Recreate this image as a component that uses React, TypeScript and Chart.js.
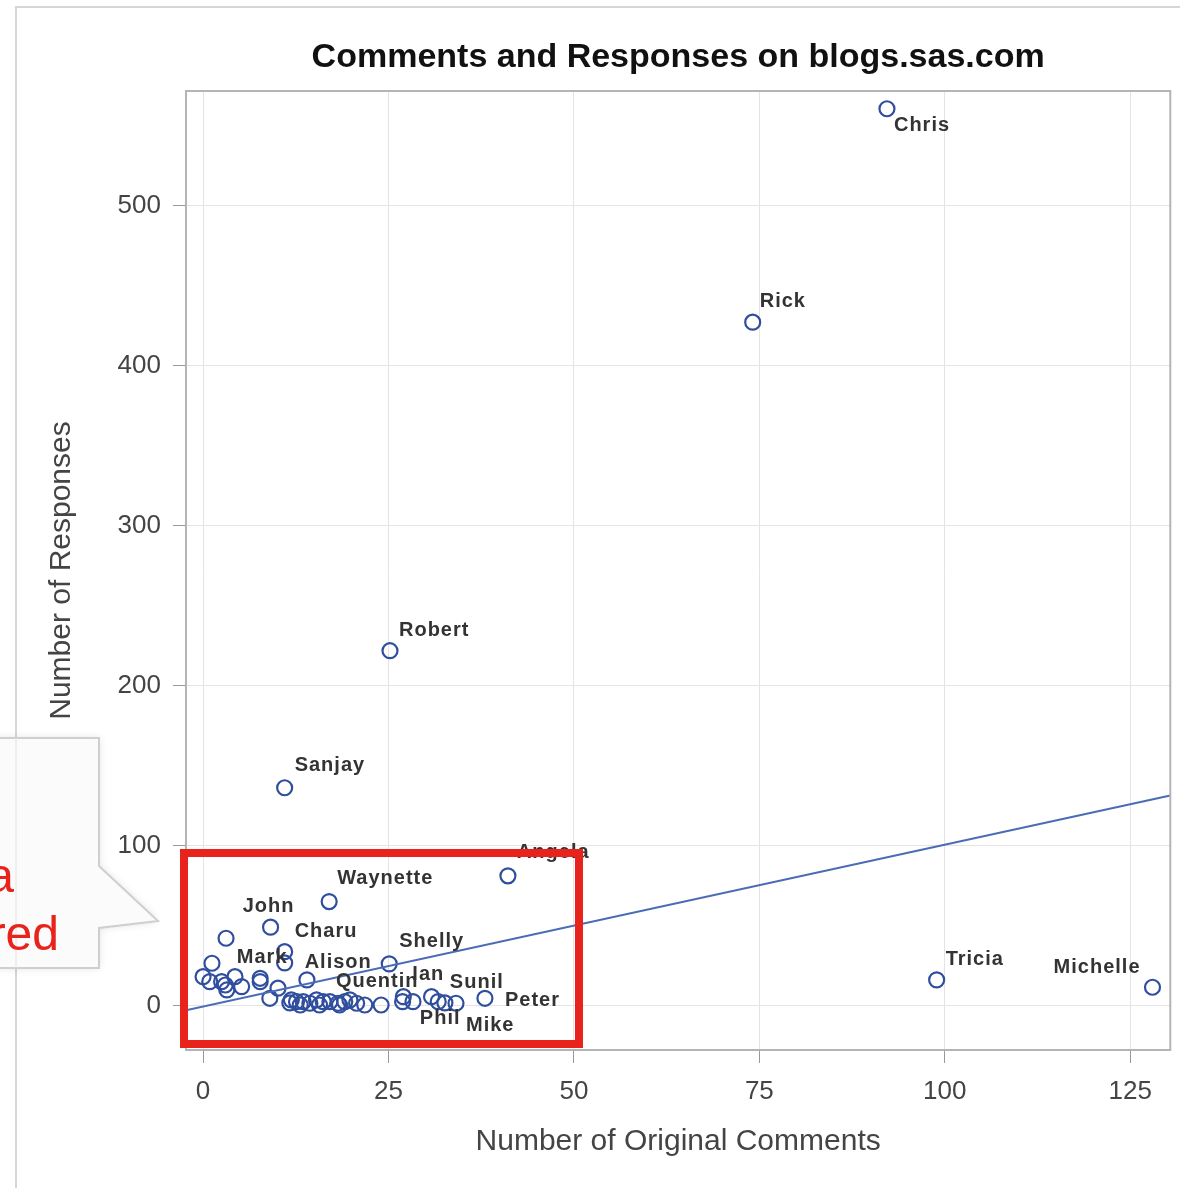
import React, { useEffect, useRef } from "react";
import { Chart, registerables } from "chart.js";

Chart.register(...registerables);

// ---------- data ----------
const chartTitle = "Comments and Responses on blogs.sas.com";
const xAxisTitle = "Number of Original Comments";
const yAxisTitle = "Number of Responses";

const authorNames = [
  "Chris", "Rick", "Robert", "Sanjay", "Angela", "Waynette", "John", "Charu",
  "Mark", "Alison", "Shelly", "Quentin", "Ian", "Sunil", "Peter", "Phil",
  "Mike", "Tricia", "Michelle",
  "", "", "", "", "", "", "", "", "", "", "", "", "", "", "", "", "", "",
  "", "", "", "", "", "", "", "", "", "", "", "", "", "",
];

const originalComments = [
  92.2, 74.1, 25.2, 11.0, 41.1, 17.0, 9.1, 11.0,
  7.7, 11.0, 25.1, 14.0, 27.0, 32.6, 38.0, 31.7,
  34.1, 98.9, 128.0,
  3.1, 1.2, 0.0, 0.9, 2.5, 3.0, 3.2, 4.3, 5.2, 7.7, 9.0, 10.1, 11.9, 12.6,
  13.5, 14.4, 15.3, 16.2, 17.1, 18.2, 19.1, 19.8, 20.7, 21.8, 24.0, 26.9,
  28.3, 30.8, 11.7, 13.1, 15.7, 18.4,
];

const responses = [
  560.4, 427.1, 221.9, 136.3, 81.3, 65.2, 49.2, 33.9,
  17.3, 26.9, 26.3, 16.3, 5.8, 1.9, 4.8, 2.7,
  1.7, 16.3, 11.7,
  42.3, 26.7, 18.3, 15.2, 15.2, 13.1, 10.0, 18.3, 12.1, 15.2, 4.8, 11.1, 3.8, 2.7,
  2.7, 1.7, 3.8, 2.7, 2.7, 1.7, 2.7, 3.8, 1.7, 0.6, 0.6, 2.7,
  2.7, 5.8, 1.9, 0.6, 0.6, 0.6,
];

const xTickValues = [0, 25, 50, 75, 100, 125];
const yTickValues = [0, 100, 200, 300, 400, 500];
const xRange = [-2.3, 130.4];
const yRange = [-27.5, 571.5];

// linear fit
const fitIntercept = -0.3;
const fitSlope = 1.01;

const calloutLines = ["a", "red"];

// ---------- styles ----------
const FONT = '"Liberation Sans", Arial, sans-serif';
const MARKER_COLOR = "#2f4e9e";
const FIT_COLOR = "#4a6cb6";
const LABEL_COLOR = "#333333";
const TICK_COLOR = "#444444";

// label placement relative to each point (px), style only
const labelPlacement: Record<string, { dx: number; dy: number; align: CanvasTextAlign }> = {
  Chris: { dx: 7, dy: 17, align: "left" },
  Rick: { dx: 7, dy: -21, align: "left" },
  Robert: { dx: 9, dy: -20, align: "left" },
  Sanjay: { dx: 10, dy: -22, align: "left" },
  Angela: { dx: 9, dy: -23, align: "left" },
  Waynette: { dx: 8, dy: -23, align: "left" },
  John: { dx: -2, dy: -21, align: "center" },
  Charu: { dx: 10, dy: -20, align: "left" },
  Mark: { dx: 2, dy: -21, align: "center" },
  Alison: { dx: 20, dy: 0, align: "left" },
  Shelly: { dx: 10, dy: -22, align: "left" },
  Quentin: { dx: 29, dy: 2, align: "left" },
  Ian: { dx: 9, dy: -22, align: "left" },
  Sunil: { dx: 5, dy: -20, align: "left" },
  Peter: { dx: 20, dy: 2, align: "left" },
  Phil: { dx: 2, dy: 17, align: "center" },
  Mike: { dx: 10, dy: 22, align: "left" },
  Tricia: { dx: 9, dy: -20, align: "left" },
  Michelle: { dx: -12, dy: -20, align: "right" },
};

const decorPlugin = {
  id: "decor",
  beforeDraw(chart: any) {
    const ctx = chart.ctx;
    ctx.save();
    ctx.fillStyle = "#ffffff";
    ctx.fillRect(0, 0, chart.width, chart.height);
    // outer frame
    ctx.strokeStyle = "#d6d6d6";
    ctx.lineWidth = 2;
    ctx.beginPath();
    ctx.moveTo(16, chart.height);
    ctx.lineTo(16, 7);
    ctx.lineTo(chart.width, 7);
    ctx.stroke();
    ctx.restore();
  },
  afterDatasetsDraw(chart: any) {
    const ctx = chart.ctx;
    const xs = chart.scales.x;
    const ys = chart.scales.y;
    ctx.save();
    ctx.font = `bold 20px ${FONT}`;
    ctx.fillStyle = LABEL_COLOR;
    ctx.textBaseline = "middle";
    try { (ctx as any).letterSpacing = "1px"; } catch (e) {}
    authorNames.forEach((name, i) => {
      if (!name) return;
      const p = labelPlacement[name] || { dx: 8, dy: -20, align: "left" };
      const px = xs.getPixelForValue(originalComments[i]);
      const py = ys.getPixelForValue(responses[i]);
      ctx.textAlign = p.align;
      ctx.fillText(name, px + p.dx, py + p.dy);
    });
    ctx.restore();
  },
  afterDraw(chart: any) {
    const ctx = chart.ctx;
    const a = chart.chartArea;
    ctx.save();
    // plot frame
    ctx.strokeStyle = "#b4b4b4";
    ctx.lineWidth = 2;
    ctx.strokeRect(a.left, a.top, a.right - a.left, a.bottom - a.top);
    // title
    ctx.fillStyle = "#111111";
    ctx.font = `bold 34px ${FONT}`;
    ctx.textAlign = "center";
    ctx.textBaseline = "alphabetic";
    ctx.fillText(chartTitle, (a.left + a.right) / 2, 67);
    // red highlight box
    ctx.strokeStyle = "#e8231b";
    ctx.lineWidth = 8;
    ctx.strokeRect(184, 853, 395, 191);
    // callout
    ctx.shadowColor = "rgba(0,0,0,0.12)";
    ctx.shadowBlur = 8;
    ctx.fillStyle = "#fbfbfb";
    ctx.beginPath();
    ctx.moveTo(-4, 738);
    ctx.lineTo(99, 738);
    ctx.lineTo(99, 866);
    ctx.lineTo(158, 921);
    ctx.lineTo(99, 928);
    ctx.lineTo(99, 968);
    ctx.lineTo(-4, 968);
    ctx.closePath();
    ctx.fill();
    ctx.shadowColor = "transparent";
    ctx.strokeStyle = "#cfcfcf";
    ctx.lineWidth = 2;
    ctx.stroke();
    ctx.strokeStyle = "#e2e2e2";
    ctx.lineWidth = 1;
    ctx.beginPath();
    ctx.moveTo(16, 738);
    ctx.lineTo(16, 968);
    ctx.stroke();
    ctx.fillStyle = "#e8231b";
    ctx.font = `48px ${FONT}`;
    ctx.textAlign = "right";
    ctx.fillText(calloutLines[0], 14, 892);
    ctx.fillText(calloutLines[1], 59, 950);
    ctx.restore();
  },
};

export default function App() {
  const ref = useRef<HTMLCanvasElement | null>(null);

  useEffect(() => {
    const canvas = ref.current;
    if (!canvas) return;
    const points = originalComments.map((x, i) => ({ x, y: responses[i] }));
    const fitPoints = xRange.map((x) => ({ x, y: fitIntercept + fitSlope * x }));

    const chart = new Chart(canvas, {
      type: "scatter",
      data: {
        datasets: [
          {
            type: "scatter",
            data: points,
            pointRadius: 7.5,
            pointBorderWidth: 2.2,
            pointBackgroundColor: "rgba(0,0,0,0)",
            pointBorderColor: MARKER_COLOR,
            order: 2,
          } as any,
          {
            type: "line",
            data: fitPoints,
            borderColor: FIT_COLOR,
            borderWidth: 2,
            pointRadius: 0,
            fill: false,
            order: 1,
          } as any,
        ],
      },
      plugins: [decorPlugin],
      options: {
        animation: false,
        responsive: false,
        devicePixelRatio: 1,
        layout: { padding: { left: 0, right: 7, top: 91, bottom: 0 } },
        plugins: {
          legend: { display: false },
          tooltip: { enabled: false },
          title: { display: false },
        },
        scales: {
          x: {
            type: "linear",
            min: xRange[0],
            max: xRange[1],
            afterBuildTicks: (s: any) => {
              s.ticks = xTickValues.map((v) => ({ value: v }));
            },
            afterFit: (s: any) => {
              s.height = 138;
            },
            border: { display: false },
            grid: { color: "#e4e4e4", lineWidth: 1, tickColor: "#999999", tickLength: 13 },
            ticks: {
              color: TICK_COLOR,
              font: { family: FONT, size: 26 },
              padding: 13,
              maxRotation: 0,
              autoSkip: false,
            },
            title: {
              display: true,
              text: xAxisTitle,
              color: TICK_COLOR,
              font: { family: FONT, size: 30, lineHeight: 1.2 },
              padding: { top: 0, bottom: 28 },
            },
          },
          y: {
            type: "linear",
            min: yRange[0],
            max: yRange[1],
            afterBuildTicks: (s: any) => {
              s.ticks = yTickValues.map((v) => ({ value: v }));
            },
            afterFit: (s: any) => {
              s.width = 186;
            },
            border: { display: false },
            grid: { color: "#e4e4e4", lineWidth: 1, tickColor: "#999999", tickLength: 13 },
            ticks: {
              color: TICK_COLOR,
              font: { family: FONT, size: 26 },
              padding: 12,
              autoSkip: false,
            },
            title: {
              display: true,
              text: yAxisTitle,
              color: TICK_COLOR,
              font: { family: FONT, size: 30, lineHeight: 1.2 },
              padding: { top: 44, bottom: 0 },
            },
          },
        },
      } as any,
    });
    return () => chart.destroy();
  }, []);

  return (
    <div style={{ position: "absolute", left: 0, top: 0, width: 1180, height: 1188, background: "#fff" }}>
      <canvas ref={ref} width={1180} height={1188} style={{ display: "block", width: 1180, height: 1188 }} />
    </div>
  );
}
